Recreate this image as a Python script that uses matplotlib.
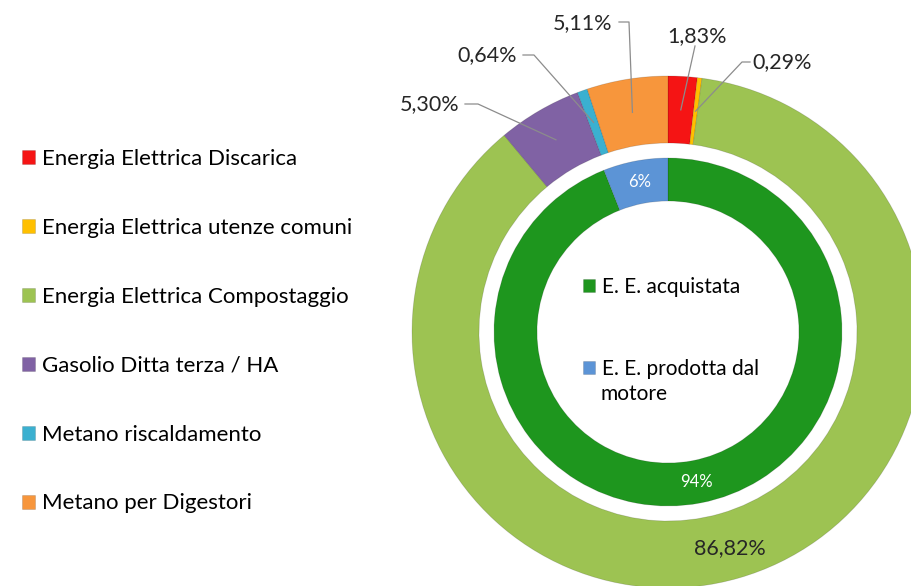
import numpy as np
import matplotlib.pyplot as plt

plt.rcParams['font.family'] = ['Lato', 'DejaVu Sans']

# dati anello esterno
outer_labels = ['Energia Elettrica Discarica', 'Energia Elettrica utenze comuni',
                'Energia Elettrica Compostaggio', 'Gasolio Ditta terza / HA',
                'Metano riscaldamento', 'Metano per Digestori']
outer_values = [1.83, 0.29, 86.82, 5.30, 0.64, 5.11]
outer_text = ['1,83%', '0,29%', '86,82%', '5,30%', '0,64%', '5,11%']
outer_colors = ['#F51414', '#FFC000', '#9DC352', '#8062A4', '#3BB0D0', '#F7963C']

# dati anello interno
inner_labels = ['E. E. acquistata', 'E. E. prodotta dal\nmotore']
inner_values = [94, 6]
inner_text = ['94%', '6%']
inner_colors = ['#1E961E', '#5C94D6']

W, H = 912, 586
fig = plt.figure(figsize=(W / 100, H / 100), dpi=100)
ax = fig.add_axes([0, 0, 1, 1])

cx, cy = 668, H - 332
R1, w1 = 256, 67
R2, w2 = 174, 43

wo, _ = ax.pie(outer_values, colors=outer_colors, radius=R1, center=(cx, cy),
               startangle=90, counterclock=False,
               wedgeprops=dict(width=w1, linewidth=0.6, edgecolor=(0, 0, 0, 0.15)))
wi, _ = ax.pie(inner_values, colors=inner_colors, radius=R2, center=(cx, cy),
               startangle=90, counterclock=False,
               wedgeprops=dict(width=w2, linewidth=0.6, edgecolor=(0, 0, 0, 0.15)))
ax.set_xlim(0, W)
ax.set_ylim(0, H)
ax.set_aspect('auto')
ax.axis('off')


def mid_point(w, r):
    a = np.deg2rad((w.theta1 + w.theta2) / 2)
    return cx + r * np.cos(a), cy + r * np.sin(a)


# etichette esterne: posizione testo (pixel immagine), inizio linea, gomito
label_layout = {
    0: ((697, 36), (695, 46), None),
    1: ((782, 62), (750, 62), (742, 62)),
    3: ((430, 104), (465, 104), (478, 104)),
    4: ((487, 55), (523, 55), (534, 55)),
    5: ((583, 23), (619, 22), (629, 22)),
}
lab_col = '#262626'
for i, w in enumerate(wo):
    if i in label_layout:
        (tx, ty), start, elbow = label_layout[i]
        ax.text(tx, H - ty, outer_text[i], ha='center', va='center',
                fontsize=15.5, color=lab_col)
        px, py = mid_point(w, R1 - w1 / 2)
        xs = [start[0]]
        ys = [H - start[1]]
        if elbow is not None:
            xs.append(elbow[0])
            ys.append(H - elbow[1])
        xs.append(px)
        ys.append(py)
        ax.plot(xs, ys, color='#8C8C8C', lw=0.9)
    else:
        px, py = mid_point(w, R1 - w1 / 2)
        ax.text(px, py - 2, outer_text[i], ha='center', va='center',
                fontsize=15.5, color=lab_col)

for i, w in enumerate(wi):
    px, py = mid_point(w, R2 - w2 / 2)
    ax.text(px, py, inner_text[i], ha='center', va='center',
            fontsize=12, color='white')

leg1 = ax.legend(wo, outer_labels, loc='upper left', bbox_to_anchor=(22, H - 149),
                 bbox_transform=ax.transData, frameon=False, fontsize=16,
                 labelspacing=2.2, handlelength=0.6, handleheight=0.6,
                 handletextpad=0.3, borderpad=0, borderaxespad=0)
ax.add_artist(leg1)
# seconda voce su due righe: quadratino allineato alla prima riga
first_lines = [s.split('\n')[0] for s in inner_labels]
leg2 = ax.legend(wi, first_lines, loc='upper left', bbox_to_anchor=(583, H - 277),
                 bbox_transform=ax.transData, frameon=False, fontsize=15,
                 labelspacing=2.96, handlelength=0.6, handleheight=0.6,
                 handletextpad=0.3, borderpad=0, borderaxespad=0)
ax.text(601, H - 394, inner_labels[1].split('\n')[1], ha='left', va='center',
        fontsize=15, color='black')

fig.savefig('out.png', dpi=100)
